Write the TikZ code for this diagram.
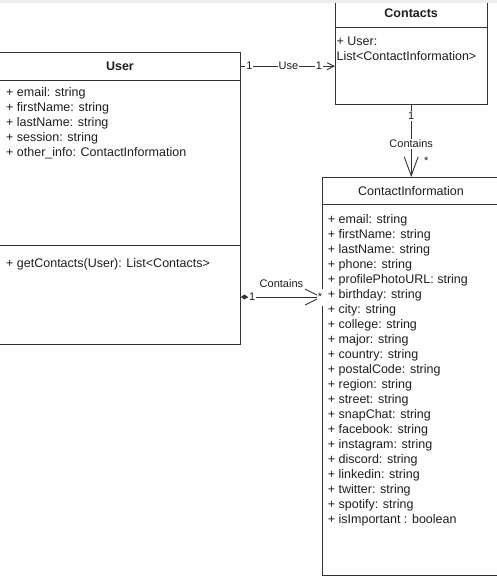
\documentclass[tikz,border=0pt]{standalone}
\usepackage{fontspec}
\setmainfont{Liberation Sans}
\usetikzlibrary{arrows.meta,calc}
\definecolor{ink}{HTML}{1E1E1E}
\definecolor{edge}{HTML}{333333}
\definecolor{band}{HTML}{EFEFEF}
\tikzset{
  box/.style={draw=edge, line width=0.9pt, rectangle, inner sep=0pt, anchor=north west},
  attr/.style={anchor=base west, inner sep=0pt, text=ink, font=\fontsize{12.5}{15}\selectfont},
  title/.style={inner sep=0pt, text=ink, font=\fontsize{12.5}{15}\selectfont},
  elabel/.style={fill=white, inner sep=1pt, text=ink, font=\fontsize{11}{13}\selectfont},
  conn/.style={draw=edge, line width=0.9pt},
}
\begin{document}
\begin{tikzpicture}[x=1pt,y=-1pt]
\useasboundingbox (0,0) rectangle (497,576);

% ---- class User ----
\node[box, minimum width=241pt, minimum height=27.5pt] (userhead) at (-1,52) {};
\node[box, minimum width=241pt, minimum height=165pt] (userattr) at (-1,79.5) {};
\node[box, minimum width=241pt, minimum height=99.5pt] (usermeth) at (-1,244.5) {};
\node[title, font=\fontsize{12.5}{15}\selectfont\bfseries] (usertitle) at (userhead.center) {User};
\foreach \t [count=\i from 0] in {%
  + email: string,
  + firstName: string,
  + lastName: string,
  + session: string,
  + other\_info: ContactInformation}
  \node[attr] (ua\i) at (6, 96.7+15*\i) {\t};
\node[attr] (um0) at (6, 267.3) {+ getContacts(User): List<Contacts>};

% ---- class Contacts ----
\node[box, minimum width=151.5pt, minimum height=28pt] (contactshead) at (335,-1) {};
\node[box, minimum width=151.5pt, minimum height=77pt] (contactsbody) at (335,27) {};
\node[title, font=\fontsize{12.5}{15}\selectfont\bfseries] (contactstitle) at (contactshead.center) {Contacts};
\node[attr] (ca0) at (336.4, 45.7) {+ User:};
\node[attr] (ca1) at (336.4, 60.7) {List<ContactInformation>};

% ---- class ContactInformation ----
\node[box, minimum width=180pt, minimum height=27pt] (infohead) at (322,177) {};
\node[box, minimum width=180pt, minimum height=371pt] (infobody) at (322,204) {};
\node[title] (infotitle) at ($(infohead.west)!0.5!(infohead.west -| 500,0)$) {ContactInformation};
\foreach \t [count=\i from 0] in {%
  + email: string,
  + firstName: string,
  + lastName: string,
  + phone: string,
  + profilePhotoURL: string,
  + birthday: string,
  + city: string,
  + college: string,
  + major: string,
  + country: string,
  + postalCode: string,
  + region: string,
  + street: string,
  + snapChat: string,
  + facebook: string,
  + instagram: string,
  + discord: string,
  + linkedin: string,
  + twitter: string,
  + spotify: string,
  + isImportant : boolean}
  \node[attr] (ia\i) at (327.7, 223.3+15.03*\i) {\t};

% ---- associations ----
\draw[conn, -{Straight Barb[length=7pt,width=7pt]}]
  (userhead.east) -- (userhead.east -| contactsbody.west)
  node[elabel, pos=0.09] (use1) {1}
  node[elabel, pos=0.505] (usel) {Use}
  node[elabel, pos=0.83] (use2) {1};

\draw[conn, -{Straight Barb[length=19pt,width=14pt]}]
  (contactsbody.south) -- (contactsbody.south |- infohead.north)
  node[elabel, pos=0.15] (cont1) {1}
  node[elabel, pos=0.54] (contl) {Contains}
  node[elabel, fill=none, pos=0.78, xshift=15pt] (cont2) {*};

\coordinate (hs) at ($(usermeth.east)+(0,2.3)$);
\draw[conn, {Diamond[length=7pt,width=5pt]}-{Straight Barb[length=16pt,width=16pt]}]
  (hs) -- (hs -| infobody.west)
  node[elabel, pos=0.14] (comp1) {1}
  node[elabel, fill=none, pos=0.5, yshift=13.5pt] (compl) {Contains}
  node[elabel, pos=0.976, minimum height=17pt, inner sep=0.5pt] (comp2) {*};

% ---- strip along the top edge ----
\fill[band] (0,0) rectangle (497,3);
\end{tikzpicture}
\end{document}
